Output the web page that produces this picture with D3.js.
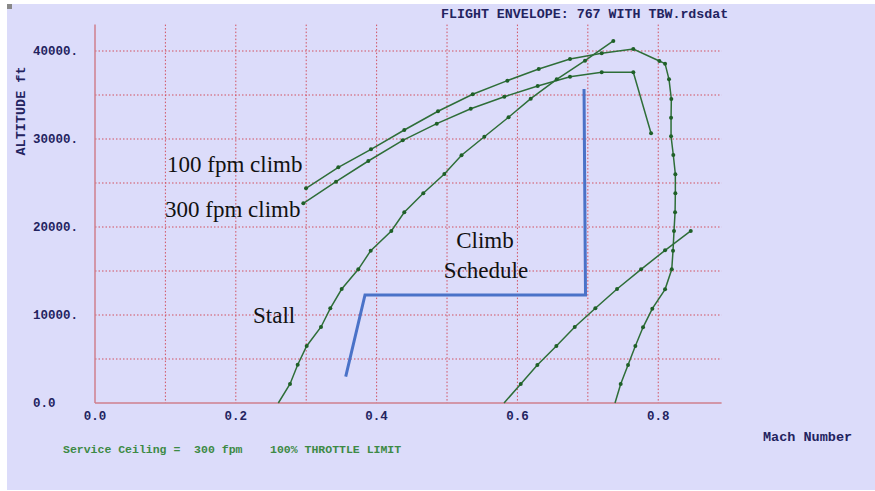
<!DOCTYPE html>
<html>
<head>
<meta charset="utf-8">
<script src="https://cdn.jsdelivr.net/npm/d3@7"></script>
<style>
  body { margin: 0; background: #ffffff; }
  text { white-space: pre; }
</style>
</head>
<body>
<div id="chart"></div>
<script>
// --- donnees (Mach, altitude ft) ---
const stallLine = [
  [0.2604, 0], [0.2770, 2160], [0.2879, 4350], [0.3007, 6480], [0.3210, 8640],
  [0.3342, 10760], [0.3504, 12950], [0.3740, 15190], [0.3916, 17310], [0.4209, 19550],
  [0.4393, 21670], [0.4663, 23830], [0.4962, 26020], [0.5206, 28150], [0.5530, 30260],
  [0.5874, 32470], [0.6189, 34580], [0.6558, 36780], [0.6960, 38900], [0.7362, 41140]
];
const climb100 = [
  [0.2997, 24400], [0.3456, 26780], [0.3920, 28830], [0.4393, 31020], [0.4872, 33150],
  [0.5365, 35080], [0.5857, 36630], [0.6303, 37950], [0.6747, 39090], [0.7197, 39740],
  [0.7646, 40230], [0.8016, 38860], [0.8097, 38560], [0.8153, 36780], [0.8186, 34550],
  [0.8182, 32420], [0.8182, 30310], [0.8214, 28180], [0.8243, 25990], [0.8243, 23830],
  [0.8239, 21670], [0.8224, 19550], [0.8210, 17310], [0.8192, 15190], [0.8097, 12920],
  [0.7916, 10720], [0.7784, 8600], [0.7675, 6480], [0.7571, 4320], [0.7467, 2160],
  [0.7386, 0]
];
const climb300 = [
  [0.2959, 22690], [0.3423, 25150], [0.3882, 27500], [0.4371, 29850], [0.4854, 31740],
  [0.5337, 33440], [0.5814, 34810], [0.6288, 36020], [0.6747, 37080], [0.7197, 37580],
  [0.7646, 37580], [0.7898, 30650]
];
const lowLine = [
  [0.5810, 0], [0.6047, 2160], [0.6283, 4320], [0.6553, 6480], [0.6814, 8640],
  [0.7107, 10760], [0.7415, 12950], [0.7756, 15190], [0.8097, 17350], [0.8462, 19550]
];
const climbSchedule = [[0.6946, 35680], [0.6967, 12270], [0.3835, 12270], [0.3561, 2990]];

const xTicks = [0, 0.2, 0.4, 0.6, 0.8];
const xLabels = ["0.0", "0.2", "0.4", "0.6", "0.8"];
const yTicks = [0, 10000, 20000, 30000, 40000];
const yLabels = ["0.0", "10000.", "20000.", "30000.", "40000."];
const xGrid = [0.1, 0.2, 0.3, 0.4, 0.5, 0.6, 0.7, 0.8];
const yGrid = [5000, 10000, 15000, 20000, 25000, 30000, 35000, 40000];

// --- zone de dessin ---
const largeur = 875, hauteur = 491;
const svg = d3.select("#chart").append("svg")
  .attr("width", largeur).attr("height", hauteur);

svg.append("rect").attr("x", 7).attr("y", 4).attr("width", 868).attr("height", 486)
  .attr("fill", "#dcdcfa");
svg.append("rect").attr("x", 7).attr("y", 4).attr("width", 5).attr("height", 5)
  .attr("fill", "#888");

const x = d3.scaleLinear().domain([0, 0.89]).range([95, 721.6]);
const y = d3.scaleLinear().domain([0, 43000]).range([403, 24.6]);

const mono = "'Liberation Mono', 'DejaVu Sans Mono', monospace";
const serif = "'Liberation Serif', 'Times New Roman', serif";

// grille pointillee
svg.append("g").selectAll("line").data(xGrid).join("line")
  .attr("x1", d => x(d)).attr("x2", d => x(d))
  .attr("y1", y(43000)).attr("y2", y(0))
  .attr("stroke", "#d2505f").attr("stroke-width", 1).attr("stroke-dasharray", "1.5,2");
svg.append("g").selectAll("line").data(yGrid).join("line")
  .attr("x1", x(0)).attr("x2", x(0.89))
  .attr("y1", d => y(d)).attr("y2", d => y(d))
  .attr("stroke", "#d2505f").attr("stroke-width", 1).attr("stroke-dasharray", "1.5,2");

// axes
svg.append("line").attr("x1", x(0)).attr("x2", x(0)).attr("y1", y(43000)).attr("y2", y(0))
  .attr("stroke", "#cf7f8c").attr("stroke-width", 1.5);
svg.append("line").attr("x1", x(0)).attr("x2", x(0.89)).attr("y1", y(0)).attr("y2", y(0))
  .attr("stroke", "#cf7f8c").attr("stroke-width", 1.5);

// etiquettes des axes
svg.append("g").selectAll("text").data(yTicks).join("text")
  .attr("x", 33).attr("y", d => y(d) + 4)
  .attr("font-family", mono).attr("font-weight", "bold").attr("font-size", 12.5)
  .attr("fill", "#23235f").text((d, i) => yLabels[i]);
svg.append("g").selectAll("text").data(xTicks).join("text")
  .attr("x", d => x(d)).attr("y", 420).attr("text-anchor", "middle")
  .attr("font-family", mono).attr("font-weight", "bold").attr("font-size", 12.5)
  .attr("fill", "#23235f").text((d, i) => xLabels[i]);

svg.append("text").attr("x", 441).attr("y", 18)
  .attr("font-family", mono).attr("font-weight", "bold").attr("font-size", 13.3)
  .attr("fill", "#23235f").text("FLIGHT ENVELOPE: 767 WITH TBW.rdsdat");
svg.append("text").attr("x", 763).attr("y", 441)
  .attr("font-family", mono).attr("font-weight", "bold").attr("font-size", 13.5)
  .attr("fill", "#23235f").text("Mach Number");
svg.append("text").attr("transform", "translate(25,111) rotate(-90)")
  .attr("text-anchor", "middle")
  .attr("font-family", mono).attr("font-weight", "bold").attr("font-size", 13.5)
  .attr("fill", "#23235f").text("ALTITUDE ft");
svg.append("text").attr("x", 63).attr("y", 453)
  .attr("font-family", mono).attr("font-weight", "bold").attr("font-size", 11.5)
  .attr("fill", "#3d8a45").text("Service Ceiling =  300 fpm    100% THROTTLE LIMIT");

// courbes vertes
const ligne = d3.line().x(d => x(d[0])).y(d => y(d[1]));
const series = [stallLine, climb100, climb300, lowLine];
svg.append("g").selectAll("path").data(series).join("path")
  .attr("d", ligne).attr("fill", "none")
  .attr("stroke", "#2e6e38").attr("stroke-width", 1.5);
svg.append("g").selectAll("circle")
  .data(series.flat().filter(d => d[1] > 0)).join("circle")
  .attr("cx", d => x(d[0])).attr("cy", d => y(d[1])).attr("r", 2)
  .attr("fill", "#1f6028");

// climb schedule (bleu)
svg.append("path").datum(climbSchedule).attr("d", ligne).attr("fill", "none")
  .attr("stroke", "#4a72c8").attr("stroke-width", 3);

// annotations
const notes = [
  { t: "100 fpm climb", x: 167, y: 172, a: "start" },
  { t: "300 fpm climb", x: 165, y: 217, a: "start" },
  { t: "Climb", x: 485, y: 248, a: "middle" },
  { t: "Schedule", x: 486, y: 278, a: "middle" },
  { t: "Stall", x: 253, y: 323, a: "start" }
];
svg.append("g").selectAll("text").data(notes).join("text")
  .attr("x", d => d.x).attr("y", d => d.y).attr("text-anchor", d => d.a)
  .attr("font-family", serif).attr("font-size", 23).attr("fill", "#111")
  .text(d => d.t);
</script>
</body>
</html>
